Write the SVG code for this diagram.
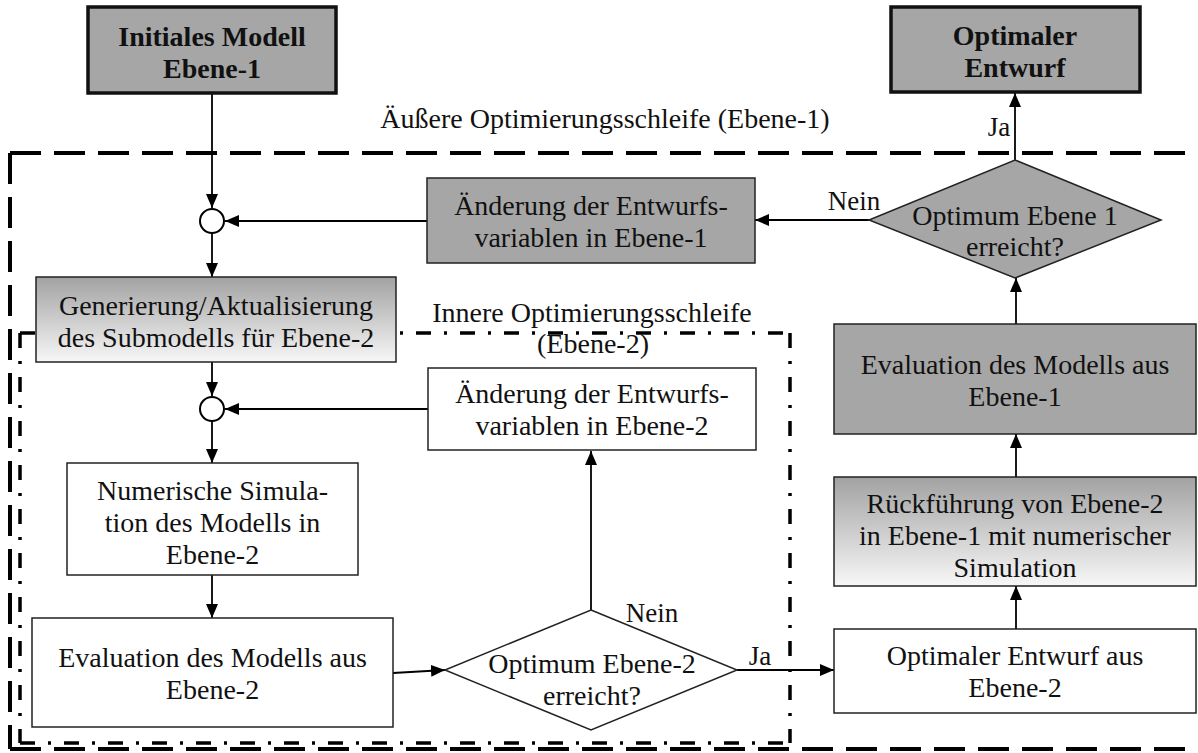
<svg xmlns="http://www.w3.org/2000/svg" width="1198" height="753" viewBox="0 0 1198 753">
<defs>
<linearGradient id="grad" x1="0" y1="0" x2="0" y2="1">
<stop offset="0" stop-color="#a2a2a2"/>
<stop offset="1" stop-color="#f7f7f7"/>
</linearGradient>
<marker id="ah" markerUnits="userSpaceOnUse" markerWidth="14" markerHeight="12" refX="14" refY="6" orient="auto">
<path d="M0,0 L14,6 L0,12 z" fill="#000"/>
</marker>
</defs>
<style>
text{font-family:'Liberation Serif','DejaVu Serif',serif;font-size:28px;fill:#111;text-anchor:middle}
.b{font-weight:bold}
.lbl{font-size:27px}
.top{fill:#a6a6a6;stroke:#111;stroke-width:3.5}
.gray{fill:#a6a6a6;stroke:#222;stroke-width:1.5}
.grad{fill:url(#grad);stroke:#222;stroke-width:1.5}
.white{fill:#fff;stroke:#222;stroke-width:1.5}
.con{fill:none;stroke:#000;stroke-width:1.8}
.arr{marker-end:url(#ah)}
.outer{fill:none;stroke:#000;stroke-width:4;stroke-dasharray:31 13}
.inner{fill:none;stroke:#000;stroke-width:3.5;stroke-dasharray:15 13 3 13}
</style>

<g id="loops">
<path class="outer" d="M10,153 H1215"/>
<path class="outer" d="M10,153 V749"/>
<path class="outer" d="M10,749 H1215"/>
<path class="inner" d="M20,333 H790"/>
<path class="inner" d="M20,333 V743"/>
<path class="inner" d="M20,743 H790"/>
<path class="inner" d="M790,333 V743"/>
<text x="605" y="128" font-family="Liberation Serif, serif">Äußere Optimierungsschleife (Ebene-1)</text>
<text x="592" y="322" font-family="Liberation Serif, serif">Innere Optimierungsschleife</text>
<text x="593" y="353" font-family="Liberation Serif, serif">(Ebene-2)</text>
</g>

<g id="connectors">
<path class="con arr" d="M212,93 V208"/>
<path class="con arr" d="M212,233 V277"/>
<path class="con arr" d="M427,221 H225"/>
<path class="con arr" d="M869,220 H755"/>
<path class="con arr" d="M1015,160 V93"/>
<path class="con arr" d="M1016,324 V278"/>
<path class="con arr" d="M1016,477 V434"/>
<path class="con arr" d="M1016,629 V586"/>
<path class="con arr" d="M212,362 V396"/>
<path class="con arr" d="M428,409 H225"/>
<path class="con arr" d="M212,421 V463"/>
<path class="con arr" d="M212,575 V618"/>
<path class="con arr" d="M393,673 L445,670"/>
<path class="con arr" d="M591,610 V451"/>
<path class="con arr" d="M737,670 H834"/>
<text class="lbl" x="999" y="136">Ja</text>
<text class="lbl" x="854" y="210">Nein</text>
<text class="lbl" x="652" y="622">Nein</text>
<text class="lbl" x="760" y="665">Ja</text>
</g>

<g id="n-initial">
<rect class="top" x="88" y="7" width="248" height="86"/>
<text class="b" x="212" y="46">Initiales Modell</text>
<text class="b" x="212" y="78">Ebene-1</text>
</g>

<g id="n-optimal">
<rect class="top" x="891" y="7" width="249" height="85"/>
<text class="b" x="1015" y="45">Optimaler</text>
<text class="b" x="1015" y="77">Entwurf</text>
</g>

<g id="n-circle1">
<circle cx="212" cy="221" r="12" fill="#fff" stroke="#000" stroke-width="2"/>
</g>

<g id="n-aend1">
<rect class="gray" x="427" y="178" width="328" height="85"/>
<text x="591" y="215">Änderung der Entwurfs-</text>
<text x="591" y="247">variablen in Ebene-1</text>
</g>

<g id="n-dec1">
<polygon class="gray" points="1015,160 1161,220 1015,278 869,220"/>
<text x="1015" y="225">Optimum Ebene 1</text>
<text x="1015" y="256">erreicht?</text>
</g>

<g id="n-gen">
<rect class="grad" x="36" y="277" width="360" height="85"/>
<text x="216" y="315">Generierung/Aktualisierung</text>
<text x="216" y="347">des Submodells für Ebene-2</text>
</g>

<g id="n-circle2">
<circle cx="212" cy="409" r="12" fill="#fff" stroke="#000" stroke-width="2"/>
</g>

<g id="n-aend2">
<rect class="white" x="428" y="368" width="328" height="82"/>
<text x="592" y="403">Änderung der Entwurfs-</text>
<text x="592" y="435">variablen in Ebene-2</text>
</g>

<g id="n-num">
<rect class="white" x="67" y="463" width="291" height="112"/>
<text x="212.5" y="500">Numerische Simula-</text>
<text x="212.5" y="532">tion des Modells in</text>
<text x="212.5" y="564">Ebene-2</text>
</g>

<g id="n-eval2">
<rect class="white" x="32" y="618" width="361" height="109"/>
<text x="212.5" y="667">Evaluation des Modells aus</text>
<text x="212.5" y="699">Ebene-2</text>
</g>

<g id="n-dec2">
<polygon class="white" points="591,610 737,670 591,730 445,670"/>
<text x="592" y="673">Optimum Ebene-2</text>
<text x="592" y="705">erreicht?</text>
</g>

<g id="n-opt2">
<rect class="white" x="834" y="629" width="362" height="84"/>
<text x="1015" y="665">Optimaler Entwurf aus</text>
<text x="1015" y="697">Ebene-2</text>
</g>

<g id="n-rueck">
<rect class="grad" x="834" y="477" width="362" height="109"/>
<text x="1015" y="513">Rückführung von Ebene-2</text>
<text x="1015" y="545">in Ebene-1 mit numerischer</text>
<text x="1015" y="577">Simulation</text>
</g>

<g id="n-eval1">
<rect class="gray" x="834" y="324" width="362" height="110"/>
<text x="1015" y="374">Evaluation des Modells aus</text>
<text x="1015" y="406">Ebene-1</text>
</g>
</svg>
